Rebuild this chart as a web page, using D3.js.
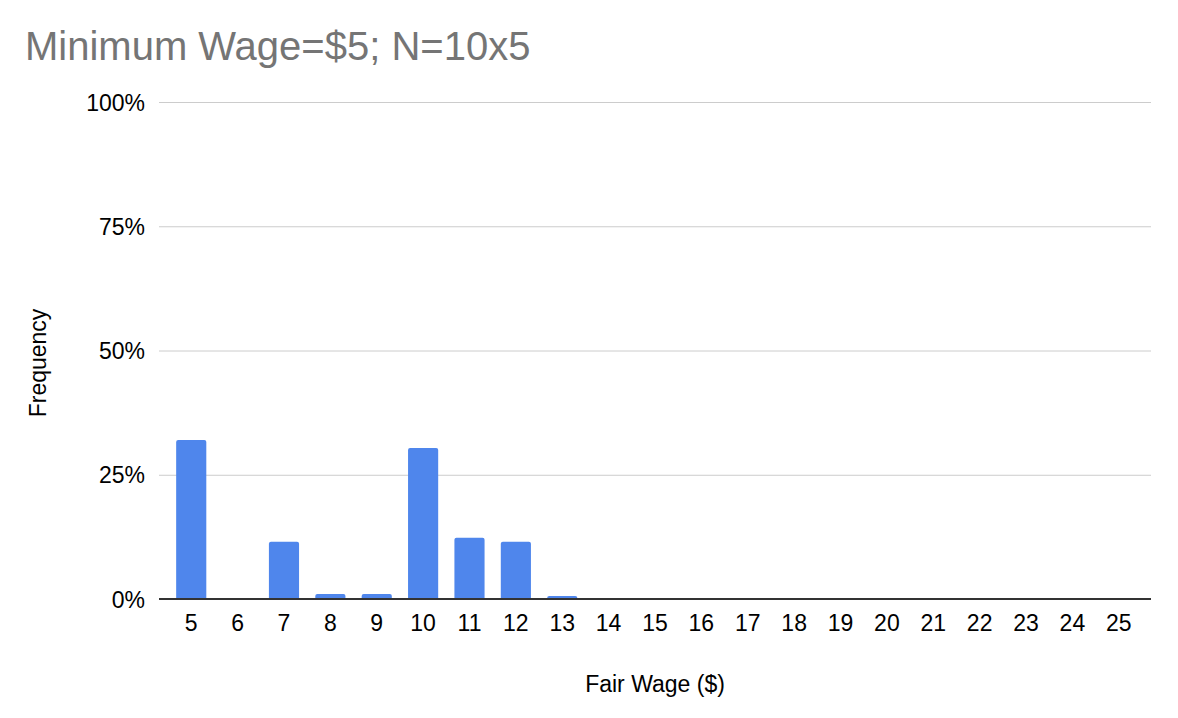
<!DOCTYPE html>
<html>
<head>
<meta charset="utf-8">
<script src="https://cdn.jsdelivr.net/npm/d3@7"></script>
<style>
  body { margin: 0; background: #fff; }
  svg text { font-family: "Liberation Sans", Arial, sans-serif; }
</style>
</head>
<body>
<svg id="chart" width="1178" height="718"></svg>
<script>
// Histogram of fair wage answers
const wages = d3.range(5, 26).map(String);
const freq = [0.320, 0, 0.115, 0.010, 0.010, 0.304, 0.123, 0.115, 0.006,
  0, 0, 0, 0, 0, 0, 0, 0, 0, 0, 0, 0];
const yTicks = [0, 0.25, 0.5, 0.75, 1];

const svg = d3.select('#chart');
const margin = { left: 159, right: 27, top: 102, bottom: 119 };
const W = 1178, H = 718;

const x = d3.scaleBand().domain(wages)
  .range([margin.left, W - margin.right])
  .paddingInner(0.35).paddingOuter(0.37);
const y = d3.scaleLinear().domain([0, 1]).range([H - margin.bottom, margin.top]);

// title
svg.append('text')
  .attr('x', 25).attr('y', 60)
  .attr('fill', '#757575')
  .style('font-size', '40px')
  .text('Minimum Wage=$5; N=10x5');

// gridlines + y labels
const yAxis = d3.axisLeft(y).tickValues(yTicks).tickFormat(d3.format('.0%'))
  .tickSize(-(W - margin.left - margin.right)).tickPadding(14);
svg.append('g').attr('transform', `translate(${margin.left},0)`)
  .call(yAxis)
  .call(g => g.select('.domain').remove())
  .call(g => g.selectAll('line').attr('stroke', '#cccccc'))
  .call(g => g.selectAll('text').attr('fill', '#000').style('font-size', '23px')
    .attr('dy', '0.35em'));

// bars, rounded on top
const r = 2;
svg.append('g').selectAll('path').data(freq.map((v, i) => ({ k: wages[i], v })))
  .join('path')
  .filter(d => d.v > 0)
  .attr('fill', '#4f86ec')
  .attr('d', d => {
    const x0 = x(d.k), w = x.bandwidth(), y0 = y(0), y1 = y(d.v);
    const rr = Math.min(r, (y0 - y1));
    return `M${x0},${y0}V${y1 + rr}Q${x0},${y1} ${x0 + rr},${y1}H${x0 + w - rr}Q${x0 + w},${y1} ${x0 + w},${y1 + rr}V${y0}Z`;
  });

// x axis
const xAxis = d3.axisBottom(x).tickSize(0).tickPadding(16);
svg.append('g').attr('transform', `translate(0,${y(0)})`)
  .call(xAxis)
  .call(g => g.select('.domain').attr('stroke', '#333').attr('stroke-width', 2)
    .attr('d', `M${margin.left},0H${W - margin.right}`))
  .call(g => g.selectAll('text').attr('fill', '#000').style('font-size', '23px'));

// axis titles
svg.append('text')
  .attr('x', 655).attr('y', 692)
  .attr('text-anchor', 'middle').style('font-size', '23px')
  .text('Fair Wage ($)');
svg.append('text')
  .attr('transform', 'translate(46,363) rotate(-90)')
  .attr('text-anchor', 'middle').style('font-size', '23px')
  .text('Frequency');
</script>
</body>
</html>
